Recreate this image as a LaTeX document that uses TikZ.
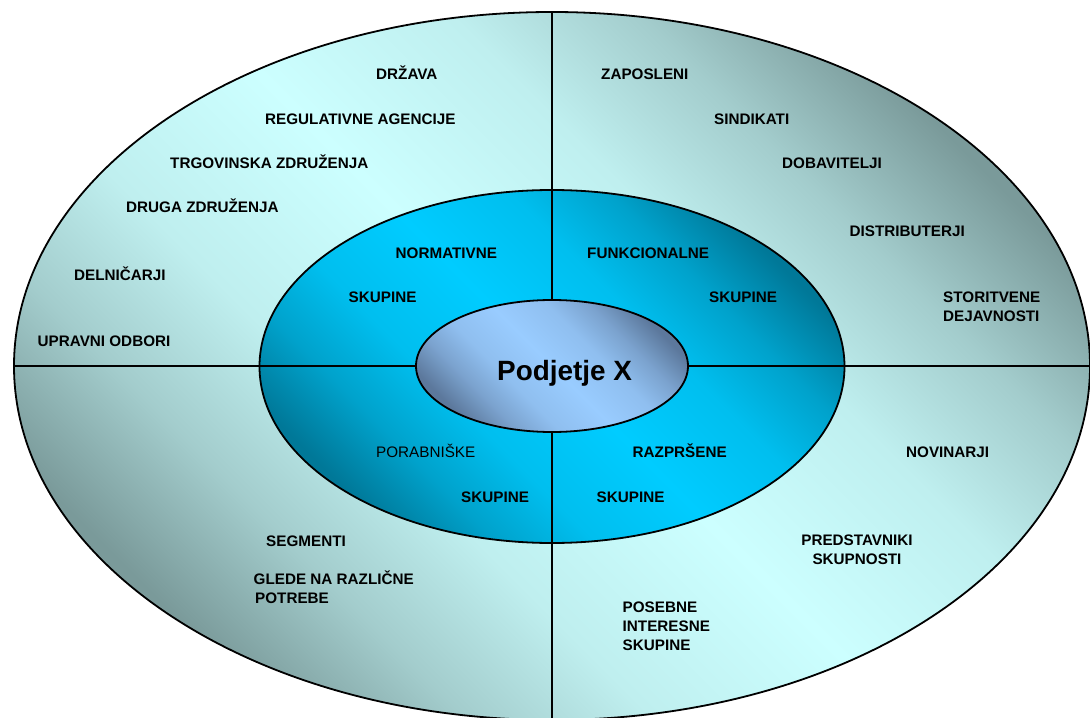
\documentclass[tikz,border=0pt]{standalone}
\usepackage{fontspec}
\setmainfont{Liberation Sans}
\usetikzlibrary{shapes.geometric}

% shading colours of the three rings
\definecolor{outerLight}{HTML}{CCFFFF}
\definecolor{outerDark}{HTML}{7A9A9A}
\definecolor{ringLight}{HTML}{00CCFF}
\definecolor{ringDark}{HTML}{007898}
\definecolor{coreLight}{HTML}{99CCFF}
\definecolor{coreDark}{HTML}{5C789C}

% dark - light - dark profile, broad light band in the middle
\pgfdeclareverticalshading{outerShade}{100bp}{%
  color(0bp)=(outerDark); color(25bp)=(outerDark);
  color(32.5bp)=(outerDark!50!outerLight); color(40bp)=(outerDark!16!outerLight);
  color(50bp)=(outerLight);
  color(60bp)=(outerDark!16!outerLight); color(67.5bp)=(outerDark!50!outerLight);
  color(75bp)=(outerDark); color(100bp)=(outerDark)}
\pgfdeclareverticalshading{ringShade}{100bp}{%
  color(0bp)=(ringDark); color(25bp)=(ringDark);
  color(32.5bp)=(ringDark!50!ringLight); color(40bp)=(ringDark!16!ringLight);
  color(50bp)=(ringLight);
  color(60bp)=(ringDark!16!ringLight); color(67.5bp)=(ringDark!50!ringLight);
  color(75bp)=(ringDark); color(100bp)=(ringDark)}
\pgfdeclareverticalshading{coreShade}{100bp}{%
  color(0bp)=(coreDark); color(25bp)=(coreDark);
  color(32.5bp)=(coreDark!50!coreLight); color(40bp)=(coreDark!16!coreLight);
  color(50bp)=(coreLight);
  color(60bp)=(coreDark!16!coreLight); color(67.5bp)=(coreDark!50!coreLight);
  color(75bp)=(coreDark); color(100bp)=(coreDark)}

\begin{document}
\begin{tikzpicture}[x=1bp, y=-1bp,
  band/.style={ellipse, draw=black, line width=1.8bp, inner sep=0pt, outer sep=0pt,
               shade, shading angle=-45},
  divider/.style={draw=black, line width=1.4bp},
  lbl/.style={font=\fontsize{15.3}{18.7}\selectfont\bfseries, anchor=base west,
              inner sep=0pt, align=left},
  lblc/.style={lbl, align=center, anchor=base},
  thin/.style={font=\fontsize{15.3}{18.7}\selectfont, anchor=base west, inner sep=0pt}]

\useasboundingbox (0,0) rectangle (1090,718);

% outer ring: external stakeholders
\node[band, shading=outerShade, minimum width=1076bp, minimum height=708bp]
  (outer) at (552,366) {};

% middle ring: stakeholder groups
\node[band, shading=ringShade, minimum width=585bp, minimum height=353bp]
  (ring) at (552,366.5) {};

% core: the company
\node[band, shading=coreShade, minimum width=272bp, minimum height=132bp]
  (core) at (552,366) {};

% quadrant dividers
\draw[divider] (outer.north) -- (core.north);
\draw[divider] (core.south) -- (outer.south);
\draw[divider] (outer.west) -- (core.west);
\draw[divider] (core.east) -- (outer.east);

\node[font=\fontsize{28}{30}\selectfont\bfseries, anchor=base west, inner sep=0pt]
  (firm) at (497,380.5) {Podjetje X};

% middle ring labels
\node[lbl] (normativne) at (395.5,258) {NORMATIVNE};
\node[lbl] (skupTL) at (348.5,302) {SKUPINE};
\node[lbl] (funkcionalne) at (587,258) {FUNKCIONALNE};
\node[lbl] (skupTR) at (709,302) {SKUPINE};
\node[thin] (porabniske) at (376,457) {PORABNIŠKE};
\node[lbl] (skupBL) at (461,502) {SKUPINE};
\node[lbl] (razprsene) at (632.5,457) {RAZPRŠENE};
\node[lbl] (skupBR) at (596.5,502) {SKUPINE};

% outer ring, top left
\node[lbl] (drzava) at (376,80) {DRŽAVA};
\node[lbl] (agencije) at (265,125) {REGULATIVNE AGENCIJE};
\node[lbl] (trgovinska) at (170,169) {TRGOVINSKA ZDRUŽENJA};
\node[lbl] (druga) at (126,213) {DRUGA ZDRUŽENJA};
\node[lbl] (delnicarji) at (74,280) {DELNIČARJI};
\node[lbl] (odbori) at (37.5,346) {UPRAVNI ODBORI};

% outer ring, top right (multi-line labels are placed by their last baseline)
\node[lbl] (zaposleni) at (601,80) {ZAPOSLENI};
\node[lbl] (sindikati) at (714,125) {SINDIKATI};
\node[lbl] (dobavitelji) at (782,169) {DOBAVITELJI};
\node[lbl] (distributerji) at (849.5,236) {DISTRIBUTERJI};
\node[lbl] (storitvene) at (943,321) {STORITVENE\\DEJAVNOSTI};

% outer ring, bottom left
\node[lbl] (segmenti) at (266,546) {SEGMENTI};
\node[lbl] (potrebe) at (253.5,603) {GLEDE NA RAZLIČNE\\\hspace*{1.5bp}POTREBE};

% outer ring, bottom right
\node[lbl] (novinarji) at (906,457) {NOVINARJI};
\node[lblc] (predstavniki) at (857,564.5) {PREDSTAVNIKI\\SKUPNOSTI};
\node[lbl] (posebne) at (622.5,650) {POSEBNE\\INTERESNE\\SKUPINE};

\end{tikzpicture}
\end{document}
